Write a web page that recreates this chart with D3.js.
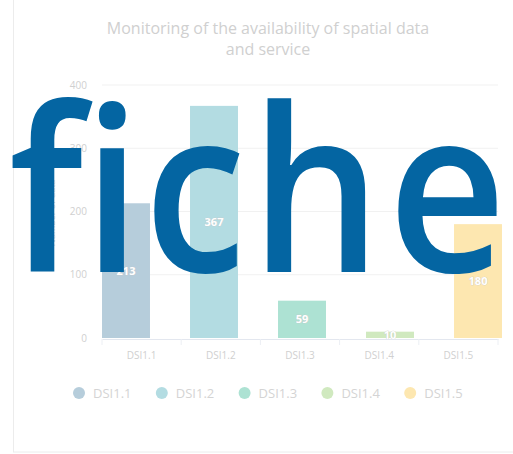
<!DOCTYPE html>
<html>
<head>
<meta charset="utf-8">
<script src="https://cdn.jsdelivr.net/npm/d3@7"></script>
<style>
  html, body { margin: 0; padding: 0; background: #fff; }
  svg { display: block; }
</style>
</head>
<body>
<svg id="chart" width="513" height="454"></svg>
<script>
const categories = ["DSI1.1", "DSI1.2", "DSI1.3", "DSI1.4", "DSI1.5"];
const values = [213, 367, 59, 10, 180];
const colors = ["#b6cddb", "#b3dce2", "#ade2d3", "#d0e9bf", "#fde7b0"];
const yTicks = [0, 100, 200, 300, 400];
const titleLines = ["Monitoring of the availability of spatial data", "and service"];
const yTitle = "Number of data";
const overlayWord = "fiche";

const svg = d3.select("#chart");
const font = "'Open Sans', 'Noto Sans', sans-serif";

// card frame
svg.append("rect").attr("x", 13.5).attr("y", -10).attr("width", 520).attr("height", 462)
  .attr("fill", "#fff").attr("stroke", "#ececec");

// title
svg.append("g").selectAll("text").data(titleLines).join("text")
  .attr("x", 268).attr("y", (d, i) => 34 + i * 21)
  .attr("text-anchor", "middle").attr("font-family", font).attr("font-size", 16)
  .attr("fill", "#d0d0d0").text(d => d);

const y = d3.scaleLinear().domain([0, 400]).range([338, 85]);
const xAxisScale = d3.scaleBand().domain(categories).range([102, 498]);
const xBar = d3.scaleBand().domain(categories).range([82, 522]).paddingInner(0.455).paddingOuter(0.2275);

// gridlines
svg.append("g").selectAll("line").data(yTicks.filter(t => t > 0)).join("line")
  .attr("x1", 102).attr("x2", 498).attr("y1", d => y(d)).attr("y2", d => y(d))
  .attr("stroke", "#f1f1f1");

// y axis labels
const yAxis = d3.axisLeft(y).tickValues(yTicks).tickSize(0).tickPadding(15);
const gy = svg.append("g").attr("transform", "translate(102,0)").call(yAxis);
gy.select(".domain").remove();
gy.selectAll("text").attr("font-family", font).attr("font-size", 10).attr("fill", "#d0d0d0");

// y title
svg.append("text").attr("transform", "translate(55,213) rotate(-90)")
  .attr("text-anchor", "middle").attr("font-family", font).attr("font-size", 9)
  .attr("fill", "#d0d0d0").text(yTitle);

// bars
svg.append("g").selectAll("rect").data(categories).join("rect")
  .attr("x", d => xBar(d)).attr("width", xBar.bandwidth())
  .attr("y", (d, i) => y(values[i])).attr("height", (d, i) => y(0) - y(values[i]))
  .attr("fill", (d, i) => colors[i]);

// value labels
svg.append("g").selectAll("text").data(categories).join("text")
  .attr("x", d => xBar(d) + xBar.bandwidth() / 2)
  .attr("y", (d, i) => (y(values[i]) + y(0)) / 2 + 4)
  .attr("text-anchor", "middle").attr("font-family", font).attr("font-size", 11)
  .attr("font-weight", "bold").attr("fill", "#fff")
  .attr("stroke", "#c9c9c9").attr("stroke-width", 0.6).attr("paint-order", "stroke")
  .text((d, i) => values[i]);

// x axis
const xAxis = d3.axisBottom(xAxisScale).tickSize(0).tickPadding(13);
const gx = svg.append("g").attr("transform", "translate(0,339)").call(xAxis);
gx.select(".domain").attr("stroke", "#e3e7ef");
gx.selectAll("text").attr("font-family", font).attr("font-size", 10).attr("fill", "#d0d0d0");
svg.append("g").selectAll("line").data(categories.concat(["end"])).join("line")
  .attr("x1", (d, i) => i < categories.length ? xAxisScale(d) : 498)
  .attr("x2", (d, i) => i < categories.length ? xAxisScale(d) : 498)
  .attr("y1", 339).attr("y2", 345).attr("stroke", "#eceff4");

// legend
const legend = svg.append("g").selectAll("g").data(categories).join("g")
  .attr("transform", (d, i) => `translate(${79 + i * 82.8},393)`);
legend.append("circle").attr("r", 6).attr("fill", (d, i) => colors[i]);
legend.append("text").attr("x", 14).attr("y", 4.5).attr("font-family", font)
  .attr("font-size", 13).attr("fill", "#d4d4d4").text(d => d);

// overlay word: each letter placed at its measured centre, slightly condensed
const letterCentres = [46, 112, 195, 316, 447];
svg.append("g").selectAll("text").data(overlayWord.split("")).join("text")
  .attr("transform", (d, i) => `translate(${letterCentres[i]},272) scale(0.9,1)`)
  .attr("text-anchor", "middle")
  .attr("font-family", font).attr("font-size", 228).attr("font-weight", 560)
  .attr("fill", "#0465a2")
  .text(d => d);
</script>
</body>
</html>
